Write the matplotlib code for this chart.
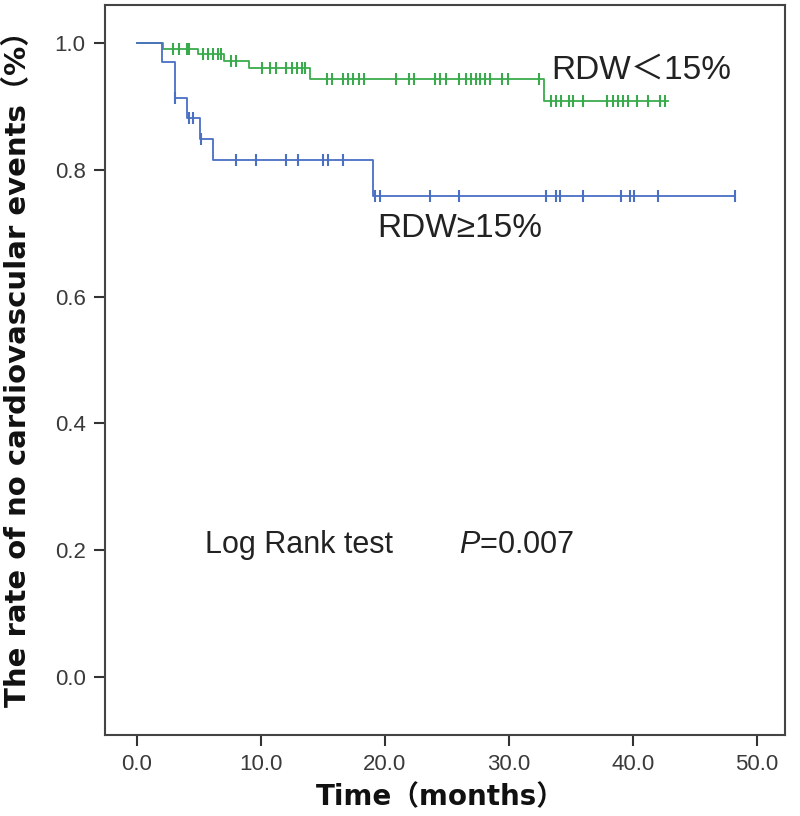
import numpy as np
import matplotlib
matplotlib.use('Agg')
from matplotlib import pyplot as plt

plt.rcParams['font.family'] = ['Liberation Sans', 'Noto Sans CJK SC', 'DejaVu Sans']
plt.rcParams['mathtext.fontset'] = 'custom'
plt.rcParams['mathtext.it'] = 'Liberation Sans:italic'
plt.rcParams['mathtext.rm'] = 'Liberation Sans'

# RDW<15% group : event times / survival level after each step
green_t = [0, 2.1, 4.95, 7.0, 9.0, 13.95, 32.8]
green_s = [1.0, 0.990, 0.982, 0.972, 0.960, 0.944, 0.909]
green_end = 42.8
green_cens = [2.9, 3.4, 4.0, 4.2, 5.3, 5.7, 6.1, 6.5, 6.75, 7.6, 8.0,
              10.1, 10.7, 11.2, 12.0, 12.5, 12.9, 13.3, 13.55,
              15.3, 15.7, 16.6, 17.0, 17.4, 17.9, 18.3, 20.9, 21.9, 22.3,
              24.0, 24.4, 24.95, 26.0, 26.5, 26.9, 27.3, 27.7, 28.1, 28.5,
              29.4, 29.9, 32.4,
              33.4, 33.8, 34.2, 34.8, 35.2, 36.0, 37.9, 38.4, 38.8, 39.2,
              39.6, 40.3, 41.2, 42.2, 42.6]

# RDW>=15% group
blue_t = [0, 2.0, 3.05, 4.05, 5.1, 6.1, 19.05]
blue_s = [1.0, 0.970, 0.913, 0.881, 0.849, 0.815, 0.759]
blue_end = 48.2
blue_cens = [3.1, 4.2, 4.5, 5.2, 8.0, 9.6, 12.0, 13.0, 15.0, 15.4, 16.6,
             19.2, 19.6, 23.6, 26.0, 33.0, 33.8, 34.1, 36.0, 39.0, 39.8,
             40.1, 42.0, 48.2]

green = '#3aab4c'
blue = '#4a70c4'


def level_at(t, times, surv):
    i = np.searchsorted(times, t, side='right') - 1
    return np.array(surv)[i]


fig = plt.figure(figsize=(8, 8.16), dpi=100)
ax = fig.add_axes([105/800, 81/816, 680/800, 730/816])

for t, s, end, cens, c in [(green_t, green_s, green_end, green_cens, green),
                           (blue_t, blue_s, blue_end, blue_cens, blue)]:
    xs = list(t) + [end]
    ys = list(s) + [s[-1]]
    ax.step(xs, ys, where='post', color=c, lw=1.3)
    ax.plot(cens, level_at(np.array(cens), t, s), ls='none', marker='|',
            ms=9, mew=1.5, color=c)

ax.set_xlim(-2.58, 52.26)
ax.set_ylim(-0.0915, 1.06)
ax.set_xticks(np.arange(0, 51, 10))
ax.set_xticklabels(['%.1f' % v for v in np.arange(0, 51, 10)])
ax.set_yticks(np.arange(0, 1.01, 0.2))
ax.set_yticklabels(['%.1f' % v for v in np.arange(0, 1.01, 0.2)])
ax.tick_params(length=8, width=1.5, color='#333333', labelsize=16,
               labelcolor='#3a3a3a', pad=6)
for sp in ax.spines.values():
    sp.set_color('#444444')
    sp.set_linewidth(1.5)

ax.text(33.4, 0.957, 'RDW＜15%', fontsize=24, color='#222222', va='center')
ax.text(19.4, 0.708, 'RDW≥15%', fontsize=24, color='#222222', va='center')
ax.text(5.5, 0.208, 'Log Rank test', fontsize=22, color='#222222', va='center')
ax.text(26.0, 0.208, r'$\mathit{P}$=0.007', fontsize=22, color='#222222', va='center')

bold_fam = ['DejaVu Sans', 'Noto Sans CJK SC']
fig.text(18/800, 1 - 362/816, 'The rate of no cardiovascular events（%）',
         rotation=90, ha='center', va='center', fontsize=21,
         fontweight='bold', family=bold_fam, color='#111111')
fig.text(440/800, 1 - 797/816, 'Time（months）', ha='center', va='center',
         fontsize=20, fontweight='bold', family=bold_fam, color='#111111')

fig.savefig('out.png', dpi=100, facecolor='white')
